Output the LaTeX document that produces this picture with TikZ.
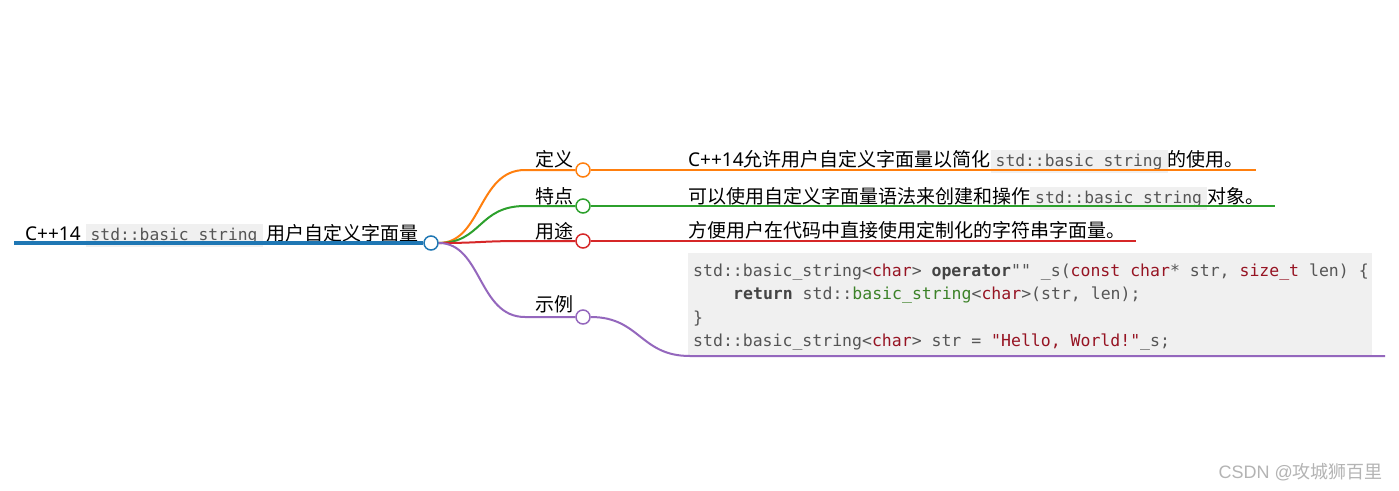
\documentclass[tikz,border=0pt]{standalone}
\usepackage{fontspec}
\setmainfont{Noto Sans}
\setmonofont{DejaVu Sans Mono}
\newfontfamily\cjk{Noto Sans CJK SC}
\newfontfamily\wmfont{Liberation Sans}
\definecolor{cblue}{HTML}{1F77B4}
\definecolor{corange}{HTML}{FF7F0E}
\definecolor{cgreen}{HTML}{2CA02C}
\definecolor{cred}{HTML}{D62728}
\definecolor{cpurple}{HTML}{9467BD}
\definecolor{boxgray}{HTML}{F0F0F0}
\definecolor{codegray}{HTML}{555555}
\definecolor{kwred}{RGB}{150,20,35}
\definecolor{kwgreen}{RGB}{60,130,40}
\definecolor{kwdark}{HTML}{444444}
\definecolor{wmgray}{HTML}{B4B4B4}
\newcommand{\ibox}[1]{{\setlength{\fboxsep}{3.5pt}\colorbox{boxgray}{\hspace{1.5pt}\fontsize{16.3}{18}\ttfamily\color{codegray}#1\hspace{1.5pt}}}}
\newcommand{\kr}[1]{{\color{kwred}#1}}
\newcommand{\kb}[1]{{\bfseries\color{kwdark}#1}}
\tikzset{
  lbl/.style={inner sep=0, anchor=base west, font=\fontsize{19}{22}\selectfont},
  codeline/.style={inner sep=0, anchor=base west, text=codegray, font=\fontsize{16.5}{20}\ttfamily},
  circ/.style={circle, minimum size=14pt, inner sep=0, fill=white, line width=1.5pt},
  branch/.style={line width=2pt},
}
\begin{document}
\begin{tikzpicture}[x=1pt,y=-1pt]
\useasboundingbox (0,0) rectangle (1399,490);
\fill[white] (0,0) rectangle (1399,490);

% code block background
\node[fill=boxgray, minimum width=684pt, minimum height=102pt, anchor=north west, inner sep=0] (code) at (688,253) {};

% texts
\node[lbl] (root) at (25,240) {C++14\hspace{5pt}\ibox{std::basic string}\hspace{4pt}{\cjk 用户自定义字面量}};
\node[lbl] (l1) at (535,166) {\cjk 定义};
\node[lbl] (l2) at (535,203) {\cjk 特点};
\node[lbl] (l3) at (535,238) {\cjk 用途};
\node[lbl] (l4) at (535,311) {\cjk 示例};
\node[lbl] (t1) at (688,166) {C++14{\cjk 允许用户自定义字面量以简化}\ibox{std::basic string}{\cjk 的使用。}};
\node[lbl] (t2) at (688,203) {{\cjk 可以使用自定义字面量语法来创建和操作}\ibox{std::basic string}{\cjk 对象。}};
\node[lbl] (t3) at (688,237) {\cjk 方便用户在代码中直接使用定制化的字符串字面量。};

\node[codeline] (k1) at (693,276) {std::basic\_string<\kr{char}> \kb{operator}"" \_s(\kr{const} \kr{char}* str, \kr{size\_t} len) \{};
\node[codeline] (k2) at (733,299.5) {\kb{return} std::{\color{kwgreen}basic\_string}<\kr{char}>(str, len);};
\node[codeline] (k3) at (693,323) {\}};
\node[codeline] (k4) at (693,346.5) {std::basic\_string<\kr{char}> str = \kr{"Hello, World!"}\_s;};

% coordinates
\coordinate (r0) at (14,243);
\coordinate (b1) at (525,170);
\coordinate (b2) at (525,206);
\coordinate (b3) at (525,241);
\coordinate (b4) at (525,317);
\coordinate (e1) at (1256,170);
\coordinate (e2) at (1275,206);
\coordinate (e3) at (1136,241);
\coordinate (p4) at (690,356);
\coordinate (e4) at (1385,356);

% circles (positions)
\node[circ] (r) at (431,243) {};
\node[circ] (c1) at (583,170) {};
\node[circ] (c2) at (583,206) {};
\node[circ] (c3) at (583,241) {};
\node[circ] (c4) at (583,317) {};

% connectors
\draw[cblue, line width=4pt] (r0) -- (r.west);
\draw[branch, corange] (r.east) .. controls (482,243) and (478,170) .. (b1) -- (c1.west);
\draw[branch, cgreen] (r.east) .. controls (482,243) and (478,206) .. (b2) -- (c2.west);
\draw[branch, cred] (r.east) .. controls (482,243) and (478,241) .. (b3) -- (c3.west);
\draw[branch, cpurple] (r.east) .. controls (482,243) and (478,317) .. (b4) -- (c4.west);
\draw[branch, corange] (c1.east) -- (e1);
\draw[branch, cgreen] (c2.east) -- (e2);
\draw[branch, cred] (c3.east) -- (e3);
\draw[branch, cpurple] (c4.east) .. controls (640,317) and (640,356) .. (p4) -- (e4);

% redraw circles on top
\node[circ, draw=cblue] at (r) {};
\node[circ, draw=corange] at (c1) {};
\node[circ, draw=cgreen] at (c2) {};
\node[circ, draw=cred] at (c3) {};
\node[circ, draw=cpurple] at (c4) {};

% watermark
\node[inner sep=0, anchor=base east, text=wmgray, font=\fontsize{18}{20}\wmfont] (wm) at (1383,478) {CSDN @{\cjk 攻城狮百里}};
\end{tikzpicture}
\end{document}
